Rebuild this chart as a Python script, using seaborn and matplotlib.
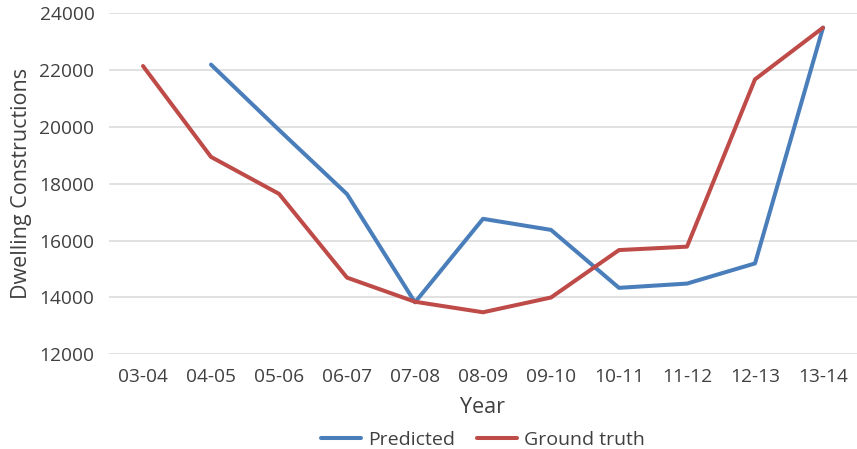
import numpy as np
import pandas as pd
import matplotlib
matplotlib.use("Agg")
import matplotlib.pyplot as plt
import seaborn as sns

# Financial years and dwelling construction counts
years = ["03-04", "04-05", "05-06", "06-07", "07-08", "08-09",
         "09-10", "10-11", "11-12", "12-13", "13-14"]
predicted = [np.nan, 22200, 19900, 17640, 13830, 16770,
             16380, 14340, 14490, 15200, 23500]
ground_truth = [22150, 18950, 17650, 14700, 13850, 13480,
                14000, 15670, 15790, 21680, 23500]
series_names = ["Predicted", "Ground truth"]
y_ticks = [12000, 14000, 16000, 18000, 20000, 22000, 24000]

pos = np.arange(len(years))
df = pd.concat([
    pd.DataFrame({"pos": pos, "value": predicted, "series": series_names[0]}),
    pd.DataFrame({"pos": pos, "value": ground_truth, "series": series_names[1]}),
], ignore_index=True).dropna()

sns.set_style("white")
plt.rcParams["font.family"] = ["Open Sans", "DejaVu Sans"]
text_color = "#404040"

fig = plt.figure(figsize=(8.57, 4.49), dpi=100)
ax = fig.add_axes([109 / 857, 0.2109, (857 - 109) / 857, 0.970 - 0.2109])

palette = {"Predicted": "#4A7EBB", "Ground truth": "#BE4B48"}
sns.lineplot(data=df, x="pos", y="value", hue="series", hue_order=series_names,
             palette=palette, linewidth=2.9, ax=ax, sort=False,
             solid_capstyle="round", solid_joinstyle="round")

ax.set_xlim(-0.5, len(years) - 0.5)
ax.set_ylim(12000, 24000)
ax.set_xticks(pos)
ax.set_xticklabels(years)
ax.set_yticks(y_ticks)
ax.set_yticklabels([str(v) for v in y_ticks])
ax.yaxis.grid(True, color="#D9D9D9", linewidth=1.1)
ax.xaxis.grid(False)
for s in ax.spines.values():
    s.set_visible(False)
ax.tick_params(axis="both", length=0, labelsize=13.8, labelcolor=text_color)
ax.tick_params(axis="y", pad=10.5)
ax.tick_params(axis="x", pad=10)

ax.set_xlabel("Year", fontsize=15.5, color=text_color, labelpad=7.5)
ax.set_ylabel("Dwelling Constructions", fontsize=15.5, color=text_color, labelpad=5)

ax.legend_.remove()
handles, labels = ax.get_legend_handles_labels()
leg = fig.legend(handles, labels, loc="center", bbox_to_anchor=(483 / 857, 0.02),
                 ncol=2, frameon=False, fontsize=14, handlelength=2.06,
                 handletextpad=0.36, columnspacing=1.17, labelcolor=text_color)
for line in leg.get_lines():
    line.set_linewidth(2.9)

fig.savefig("out.png", dpi=100)
